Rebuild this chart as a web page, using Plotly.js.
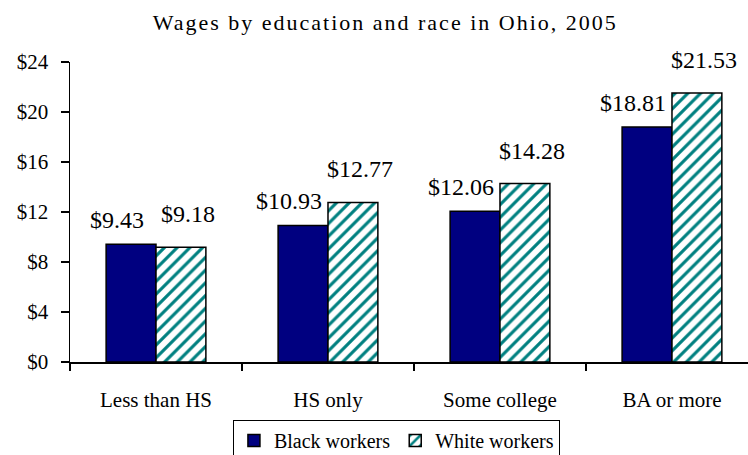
<!DOCTYPE html>
<html>
<head>
<meta charset="utf-8">
<script src="https://cdn.plot.ly/plotly-3.0.1.min.js"></script>
<style>
  html, body { margin: 0; padding: 0; background: #fff; }
  #chart { width: 748px; height: 455px; }
  .gtitle { letter-spacing: 2px; }
</style>
</head>
<body>
<div id="chart"></div>
<script>
const categories = ["Less than HS", "HS only", "Some college", "BA or more"];
const blackWages = [9.43, 10.93, 12.06, 18.81];
const whiteWages = [9.18, 12.77, 14.28, 21.53];
const yTicks = [0, 4, 8, 12, 16, 20, 24];
const seriesNames = ["Black workers", "White workers"];

const fmt = v => "$" + v.toFixed(2);
const font = "Liberation Serif, Times New Roman, serif";
const BARGAP = 0.42;
const half = (1 - BARGAP) / 4;   // offset of each bar centre from category centre

const traces = [
  {
    type: "bar", name: seriesNames[0], x: categories, y: blackWages,
    marker: {color: "#000080", line: {color: "#000", width: 1.5}}
  },
  {
    type: "bar", name: seriesNames[1], x: categories, y: whiteWages,
    marker: {color: "#ffffff", line: {color: "#000", width: 1.5},
      pattern: {shape: "/", fgcolor: "#008080", bgcolor: "#ffffff", size: 9, solidity: 0.35}}
  }
];

// value labels (Excel-like placement: black label nudged left, white nudged right)
const annotations = [];
categories.forEach((c, i) => {
  annotations.push({x: i - half, y: blackWages[i], xref: "x", yref: "y", text: fmt(blackWages[i]),
    showarrow: false, yanchor: "bottom", xanchor: "center", xshift: -14, yshift: 9,
    font: {family: font, size: 24, color: "#000"}});
  annotations.push({x: i + half, y: whiteWages[i], xref: "x", yref: "y", text: fmt(whiteWages[i]),
    showarrow: false, yanchor: "bottom", xanchor: "center", xshift: 7, yshift: 18,
    font: {family: font, size: 24, color: "#000"}});
});

const layout = {
  width: 748, height: 455,
  margin: {l: 70, r: 0, t: 62, b: 93},
  paper_bgcolor: "#fff", plot_bgcolor: "#fff",
  font: {family: font, size: 21, color: "#000"},
  title: {text: "Wages by education and race in Ohio, 2005", x: 0.515, xanchor: "center",
          y: 0.952, yanchor: "middle", font: {family: font, size: 22, color: "#000"}},
  barmode: "group", bargap: BARGAP, bargroupgap: 0,
  showlegend: true,
  annotations: annotations,
  legend: {orientation: "h", xref: "container", yref: "container", x: 0.53, xanchor: "center",
           y: 0.077, yanchor: "top", bordercolor: "#000", borderwidth: 1,
           font: {family: font, size: 20, color: "#000"}, itemwidth: 30, tracegroupgap: 0},
  xaxis: {type: "category", range: [-0.5, 3.442], showline: true, linecolor: "#000", linewidth: 1.5,
          ticks: "outside", tickson: "boundaries", ticklen: 7, tickcolor: "#000", tickwidth: 1.5,
          showgrid: false, zeroline: false, ticklabelstandoff: 18,
          tickfont: {family: font, size: 21, color: "#000"}},
  yaxis: {range: [0, 24], tickvals: yTicks, ticktext: yTicks.map(v => "$" + v),
          showline: true, linecolor: "#000", linewidth: 1.5, ticks: "outside", ticklen: 8,
          tickcolor: "#000", tickwidth: 1.5, showgrid: false, zeroline: false, ticklabelstandoff: 8,
          tickfont: {family: font, size: 21, color: "#000"}}
};

Plotly.newPlot("chart", traces, layout, {displayModeBar: false, staticPlot: true});
</script>
</body>
</html>
